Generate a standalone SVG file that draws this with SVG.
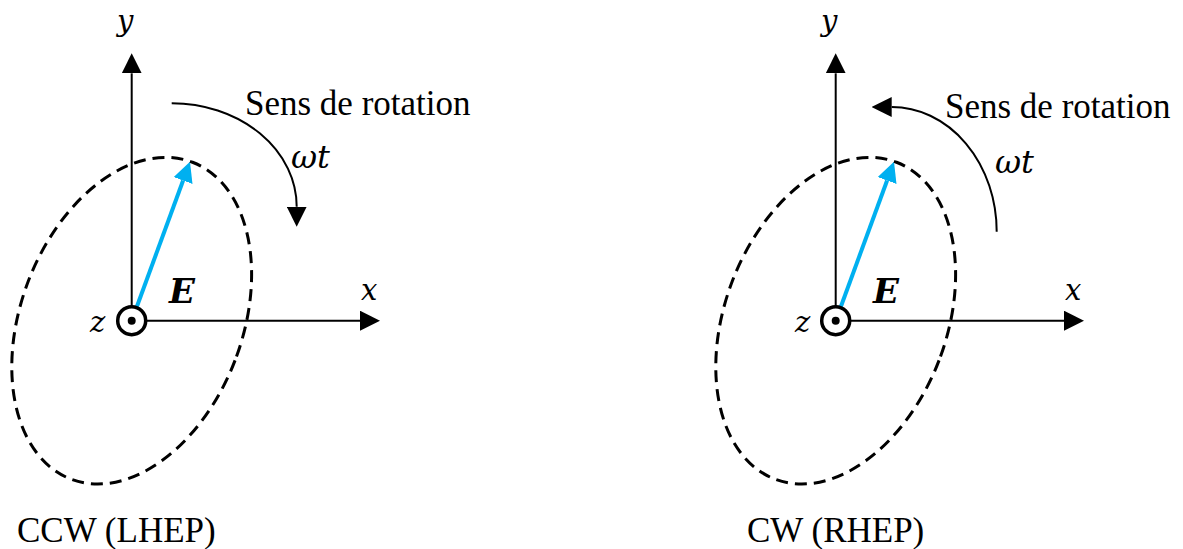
<svg xmlns="http://www.w3.org/2000/svg" width="1183" height="549" viewBox="0 0 1183 549">
  <style>
    .axis { stroke: #000; stroke-width: 2; fill: none; }
    .rot { stroke: #000; stroke-width: 2; fill: none; }
    .ell { stroke: #000; stroke-width: 3; fill: none; stroke-dasharray: 12 7; }
    .vec { stroke: #00B0F0; stroke-width: 4; fill: none; }
    .orig { stroke: #000; stroke-width: 3.5; fill: #fff; }
    .dot { fill: #000; }
    .math { font-family: "DejaVu Serif", "Liberation Serif", serif; font-style: italic; font-size: 29px; fill: #000; }
    .wt { font-family: "DejaVu Serif", "Liberation Serif", serif; font-style: italic; font-size: 32px; fill: #000; }
    .vecl { font-family: "DejaVu Serif", "Liberation Serif", serif; font-style: italic; font-weight: bold; font-size: 34px; fill: #000; }
    .txt { font-family: "Liberation Serif", "Times New Roman", serif; font-size: 35px; fill: #000; }
  </style>
  <defs>
    <marker id="ah" viewBox="0 -10 20 20" refX="0" refY="0" markerWidth="20" markerHeight="20" markerUnits="userSpaceOnUse" orient="auto">
      <path d="M0,-10 L20,0 L0,10 Z" fill="#000"/>
    </marker>
    <marker id="ahb" viewBox="0 -10 20 20" refX="0" refY="0" markerWidth="20" markerHeight="20" markerUnits="userSpaceOnUse" orient="auto">
      <path d="M0,-10 L20,0 L0,10 Z" fill="#00B0F0"/>
    </marker>
  </defs>

  <!-- Left panel: CCW -->
  <g id="ccw">
    <g id="ccw-connectors">
      <line class="axis" x1="131.7" y1="320.7" x2="131.7" y2="73.3" marker-end="url(#ah)"/>
      <line class="axis" x1="131.7" y1="320.7" x2="360" y2="320.7" marker-end="url(#ah)"/>
      <path class="rot" d="M171.7,103.3 A125,103.4 0 0 1 296.7,206.7" marker-end="url(#ah)"/>
      <line class="vec" x1="131.7" y1="320.7" x2="183.1" y2="180.5" marker-end="url(#ahb)"/>
    </g>
    <g id="ccw-ellipse">
      <ellipse class="ell" cx="0" cy="0" rx="110.7" ry="169.7" transform="translate(131.7 320.7) rotate(21)"/>
    </g>
    <g id="ccw-origin">
      <circle class="orig" cx="131.7" cy="320.7" r="14"/>
      <circle class="dot" cx="131.7" cy="320.7" r="4"/>
    </g>
    <g id="ccw-labels">
      <text class="math" x="117" y="31">y</text>
      <text class="math" x="361" y="300">x</text>
      <text class="math" x="90" y="332">z</text>
      <text class="vecl" x="169" y="303">E</text>
      <text class="txt" x="245" y="115">Sens de rotation</text>
      <text class="wt" x="291" y="168">ωt</text>
      <text class="txt" x="17" y="542">CCW (LHEP)</text>
    </g>
  </g>

  <!-- Right panel: CW -->
  <g id="cw">
    <g id="cw-connectors">
      <line class="axis" x1="835.7" y1="320.7" x2="835.7" y2="73.3" marker-end="url(#ah)"/>
      <line class="axis" x1="835.7" y1="320.7" x2="1064" y2="320.7" marker-end="url(#ah)"/>
      <path class="rot" d="M996.7,231.7 A105,124.7 0 0 0 891.7,107" marker-end="url(#ah)"/>
      <line class="vec" x1="835.7" y1="320.7" x2="887.1" y2="180.5" marker-end="url(#ahb)"/>
    </g>
    <g id="cw-ellipse">
      <ellipse class="ell" cx="0" cy="0" rx="110.7" ry="169.7" transform="translate(835.7 320.7) rotate(21)"/>
    </g>
    <g id="cw-origin">
      <circle class="orig" cx="835.7" cy="320.7" r="14"/>
      <circle class="dot" cx="835.7" cy="320.7" r="4"/>
    </g>
    <g id="cw-labels">
      <text class="math" x="821" y="31">y</text>
      <text class="math" x="1065" y="300">x</text>
      <text class="math" x="795" y="332">z</text>
      <text class="vecl" x="873" y="303">E</text>
      <text class="txt" x="945" y="118">Sens de rotation</text>
      <text class="wt" x="995" y="173">ωt</text>
      <text class="txt" x="747" y="542">CW (RHEP)</text>
    </g>
  </g>
</svg>
